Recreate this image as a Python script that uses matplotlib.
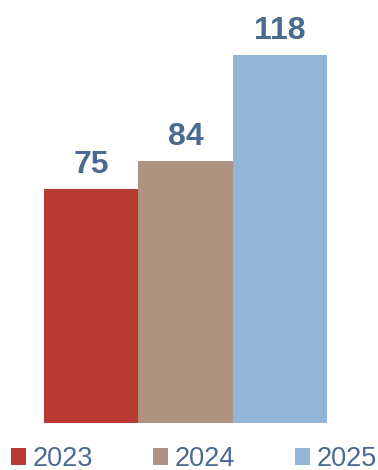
import matplotlib.pyplot as plt
from matplotlib.patches import Patch

years = ["2023", "2024", "2025"]
values = [75, 84, 118]
colors = ["#B83B31", "#AD9281", "#93B5D6"]
text_color = "#4A6A92"

plt.rcParams['font.family'] = ['Liberation Sans', 'DejaVu Sans']

fig = plt.figure(figsize=(3.78, 4.70), dpi=100)
# axes placed in pixel terms: bars span x 44..327, baseline at y 423
ax = fig.add_axes([44 / 378, 47 / 470, 283 / 378, 405 / 470])

x = range(len(years))
bars = ax.bar(x, values, width=1.0, color=colors)
ax.bar_label(bars, labels=[str(v) for v in values], padding=7,
             fontsize=23, fontweight='bold', color=text_color)

ax.set_xlim(-0.5, 2.5)
ax.set_ylim(0, 130)
ax.axis('off')

handles = [Patch(facecolor=c, edgecolor='none') for c in colors]
fig.legend(handles, years, loc='lower left', bbox_to_anchor=(11 / 378, -2 / 470),
           ncol=3, frameon=False, fontsize=19.5, labelcolor=text_color,
           handlelength=0.55, handleheight=0.55, handletextpad=0.26,
           columnspacing=2.2, borderpad=0, borderaxespad=0)

fig.savefig("out.png", dpi=100)
